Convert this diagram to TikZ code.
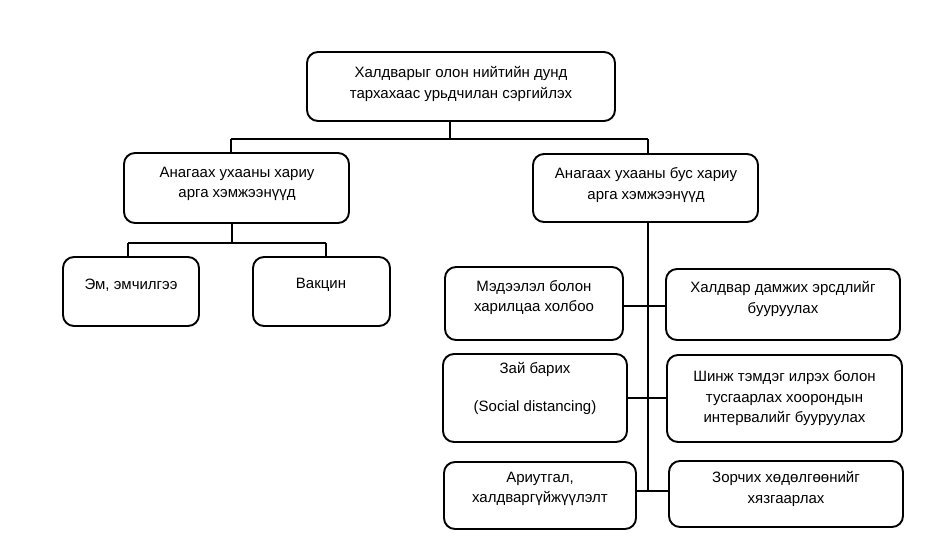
\documentclass[tikz,border=0pt]{standalone}
\usepackage{fontspec}
\setmainfont{Liberation Sans}
\begin{document}
\begin{tikzpicture}[x=1pt,y=-1pt,
  box/.style={draw=black, line width=1.9pt, rounded corners=11pt, inner sep=0pt},
  txt/.style={align=center, font=\fontsize{15}{20.5}\selectfont, inner sep=0pt},
  conn/.style={draw=black, line width=1.9pt}]
\useasboundingbox[fill=white] (0,0) rectangle (947,559);
% boxes: corner coordinates in pixels
\newcommand{\mybox}[5]{\node[box, minimum width=#4-#2, minimum height=#5-#3] (#1) at ({(#2+#4)/2},{(#3+#5)/2}) {};}
\mybox{top}{307}{52}{615}{121}
\mybox{L}{124}{153}{349}{223}
\mybox{R}{533}{154}{758}{222}
\mybox{Em}{63}{257}{199}{326}
\mybox{Vac}{253}{257}{390}{326}
\mybox{M}{445}{267}{623}{340}
\mybox{H}{666}{269}{900}{340}
\mybox{Z}{443}{354}{627}{442}
\mybox{Sh}{667}{355}{902}{442}
\mybox{A}{444}{462}{636}{529}
\mybox{Zo}{669}{461}{903}{527}
% texts
\node[txt] (ttop) at (461,84) {Халдварыг олон нийтийн дунд\\тархахаас урьдчилан сэргийлэх};
\node[txt] (tL) at (237,184) {Анагаах ухааны хариу\\арга хэмжээнүүд};
\node[txt] (tR) at (646,185) {Анагаах ухааны бус хариу\\арга хэмжээнүүд};
\node[txt] (tEm) at (131,285) {Эм, эмчилгээ};
\node[txt] (tVac) at (321,285) {Вакцин};
\node[txt] (tM) at (534,297.5) {Мэдээлэл болон\\харилцаа холбоо};
\node[txt] (tH) at (783,299) {Халдвар дамжих эрсдлийг\\бууруулах};
\node[txt] (tZ) at (535,388.5) {Зай барих\\[18pt](Social distancing)};
\node[txt] (tSh) at (784.5,398.5) {Шинж тэмдэг илрэх болон\\тусгаарлах хоорондын\\интервалийг бууруулах};
\node[txt] (tA) at (540,489) {Ариутгал,\\халдваргүйжүүлэлт};
\node[txt] (tZo) at (786,489) {Зорчих хөдөлгөөнийг\\хязгаарлах};
% junctions
\coordinate (j0) at (450,139);
\coordinate (jl) at (231,139);
\coordinate (jr) at (648,139);
\coordinate (k0) at (232,243);
\coordinate (kl) at (128,243);
\coordinate (kr) at (326,243);
% connectors
\draw[conn] (j0 |- top.south) -- (j0);
\draw[conn] (jl) -- (jr);
\draw[conn] (jl) -- (jl |- L.north);
\draw[conn] (jr) -- (jr |- R.north);
\draw[conn] (k0 |- L.south) -- (k0);
\draw[conn] (kl) -- (kr);
\draw[conn] (kl) -- (kl |- Em.north);
\draw[conn] (kr) -- (kr |- Vac.north);
\draw[conn] (jr |- R.south) -- (jr |- 0,491);
\draw[conn] (M.east |- 0,306) -- (H.west |- 0,306);
\draw[conn] (Z.east |- 0,398) -- (Sh.west |- 0,398);
\draw[conn] (A.east |- 0,491) -- (Zo.west |- 0,491);
\end{tikzpicture}
\end{document}
